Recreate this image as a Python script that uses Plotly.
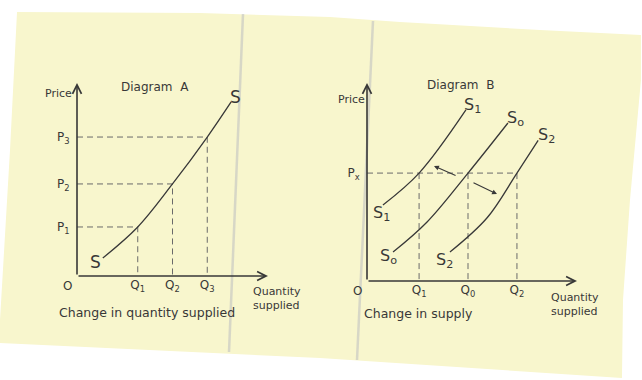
import plotly.graph_objects as go

W, H = 642, 380

# ---------------- Diagram A data (arbitrary units) ----------------
a_q_levels = [3.18, 5.0, 6.82]
a_p_levels = [2.54, 4.77, 7.20]
a_q_labels = ["Q<sub>1</sub>", "Q<sub>2</sub>", "Q<sub>3</sub>"]
a_p_labels = ["P<sub>1</sub>", "P<sub>2</sub>", "P<sub>3</sub>"]
a_curve_q = [1.35, 3.18, 5.0, 6.82, 8.07]
a_curve_p = [0.93, 2.54, 4.77, 7.20, 9.02]

# ---------------- Diagram B data ----------------
b_px = 5.45
b_p_labels = ["P<sub>x</sub>"]
b_q_levels = [2.48, 4.81, 7.14]
b_q_labels = ["Q<sub>1</sub>", "Q<sub>0</sub>", "Q<sub>2</sub>"]
s1_q = [0.76, 2.48, 4.71]
s1_p = [3.84, 5.45, 8.64]
s0_q = [1.24, 2.86, 4.81, 6.71]
s0_p = [1.46, 2.98, 5.45, 7.98]
s2_q = [3.95, 5.71, 7.14, 8.15]
s2_p = [1.46, 3.18, 5.45, 7.10]
# shift arrows (tail -> head)
arrow_left = [(4.29, 5.30), (3.19, 5.81)]
arrow_right = [(5.00, 5.00), (6.19, 4.39)]

INK = "#383838"
DASH = "#6a6a6a"
FONT = "DejaVu Sans"


def px_x(px):
    return px / W


def px_y(py):
    return 1 - py / H


fig = go.Figure()


def dashed_guides(qs, ps, xa, ya):
    xs, ys = [], []
    for q, p in zip(qs, ps):
        xs += [0, q, q, None]
        ys += [p, p, 0, None]
    fig.add_trace(go.Scatter(x=xs, y=ys, mode="lines", xaxis=xa, yaxis=ya,
                             line=dict(color=DASH, width=1, dash="6px,4px"),
                             hoverinfo="skip"))


# Diagram A
dashed_guides(a_q_levels, a_p_levels, "x", "y")
fig.add_trace(go.Scatter(x=a_curve_q, y=a_curve_p, mode="lines", xaxis="x", yaxis="y",
                         line=dict(color=INK, width=1.3, shape="spline", smoothing=1.0)))

# Diagram B
xs, ys = [0, b_q_levels[-1], None], [b_px, b_px, None]
for q in b_q_levels:
    xs += [q, q, None]
    ys += [b_px, 0, None]
fig.add_trace(go.Scatter(x=xs, y=ys, mode="lines", xaxis="x2", yaxis="y2",
                         line=dict(color=DASH, width=1, dash="6px,4px"), hoverinfo="skip"))
for cq, cp in [(s1_q, s1_p), (s0_q, s0_p), (s2_q, s2_p)]:
    fig.add_trace(go.Scatter(x=cq, y=cp, mode="lines", xaxis="x2", yaxis="y2",
                             line=dict(color=INK, width=1.3, shape="spline", smoothing=1.0)))

axis_common = dict(range=[0, 10], showgrid=False, zeroline=False, showline=False,
                   automargin=False,
                   tickfont=dict(family=FONT, size=12, color=INK), fixedrange=True)
x_ticks = dict(ticks="", **axis_common)
y_ticks = dict(ticks="outside", ticklen=4, tickcolor="rgba(0,0,0,0)", **axis_common)

fig.update_layout(
    width=W, height=H,
    margin=dict(l=0, r=0, t=0, b=0, autoexpand=False),
    paper_bgcolor="white",
    plot_bgcolor="rgba(0,0,0,0)",
    showlegend=False,
    xaxis=dict(domain=[px_x(77), px_x(268)], anchor="y",
               tickvals=a_q_levels, ticktext=a_q_labels, **x_ticks),
    yaxis=dict(domain=[px_y(276), px_y(83)], anchor="x",
               tickvals=a_p_levels, ticktext=a_p_labels, **y_ticks),
    xaxis2=dict(domain=[px_x(367), px_x(577)], anchor="y2",
                tickvals=b_q_levels, ticktext=b_q_labels, **x_ticks),
    yaxis2=dict(domain=[px_y(281), px_y(83)], anchor="x2",
                tickvals=[b_px], ticktext=b_p_labels, **y_ticks),
)

# page (scanned sheet) background and fold lines
page = [(17, 12), (200, 13), (330, 17), (400, 22), (540, 30), (641, 35), (641, 80),
        (630, 200), (623, 300), (622, 378), (320, 358), (0, 343), (0, 320), (10, 150)]
path = "M " + " L ".join(f"{px_x(a):.4f},{px_y(b):.4f}" for a, b in page) + " Z"
shapes = [dict(type="path", xref="paper", yref="paper", path=path,
               fillcolor="#f8f6cd", line=dict(width=0), layer="below")]
for (x0, y0), (x1, y1) in [((243, 14), (229, 352)), ((373, 21), (357, 360))]:
    shapes.append(dict(type="line", xref="paper", yref="paper",
                       x0=px_x(x0), y0=px_y(y0), x1=px_x(x1), y1=px_y(y1),
                       line=dict(color="rgba(175,178,190,0.45)", width=2.5), layer="below"))
fig.update_layout(shapes=shapes)

ann = []
# axes arrows
for xa, ya in [("x", "y"), ("x2", "y2")]:
    ann.append(dict(x=10, y=0, ax=0, ay=0, xref=xa, yref=ya, axref=xa, ayref=ya, text="",
                    showarrow=True, arrowhead=5, arrowsize=1.1, arrowwidth=1.6,
                    arrowcolor=INK, standoff=0))
    ann.append(dict(x=0, y=10, ax=0, ay=0, xref=xa, yref=ya, axref=xa, ayref=ya, text="",
                    showarrow=True, arrowhead=5, arrowsize=1.1, arrowwidth=1.6,
                    arrowcolor=INK, standoff=0))
    ann.append(dict(x=0, y=0, xref=xa, yref=ya, text="O", showarrow=False,
                    xanchor="right", yanchor="top", xshift=-3, yshift=-1,
                    font=dict(family=FONT, size=12, color=INK)))
# shift arrows
for (tx, ty), (hx, hy) in [arrow_left, arrow_right]:
    ann.append(dict(x=hx, y=hy, ax=tx, ay=ty, xref="x2", yref="y2", axref="x2", ayref="y2",
                    text="", showarrow=True, arrowhead=2, arrowsize=0.9, arrowwidth=1.1,
                    arrowcolor=INK, standoff=0))


def label(text, px, py, size=11, xanchor="center", yanchor="middle", align="center"):
    ann.append(dict(x=px_x(px), y=px_y(py), xref="paper", yref="paper", text=text,
                    showarrow=False, xanchor=xanchor, yanchor=yanchor, align=align,
                    font=dict(family=FONT, size=size, color=INK)))


label("Price", 74, 93, 11, xanchor="right")
label("Diagram\u00a0\u00a0A", 155, 87, 12)
label("Quantity<br>supplied", 251, 298, 11, xanchor="left", align="left")
label("Change in quantity supplied", 147, 312, 12.5)

label("Price", 367, 100, 11, xanchor="right")
label("Diagram\u00a0\u00a0B", 460, 85, 12)
label("Quantity<br>supplied", 549, 304, 11, xanchor="left", align="left")
label("Change in supply", 418, 313, 12.5)

# curve end labels
label("S", 96, 262, 17)
label("S", 235, 97, 17)
label("S<sub>1</sub>", 381, 213, 16)
label("S<sub>1</sub>", 472, 106, 16)
label("S<sub>o</sub>", 388, 256, 16)
label("S<sub>o</sub>", 515, 119, 16)
label("S<sub>2</sub>", 444, 260, 16)
label("S<sub>2</sub>", 546, 135, 16)

fig.update_layout(annotations=ann)

fig.write_html(
    "out.html",
    config={"displayModeBar": False},
    post_script="document.body.style.margin='0px';document.body.style.overflow='hidden';",
)
